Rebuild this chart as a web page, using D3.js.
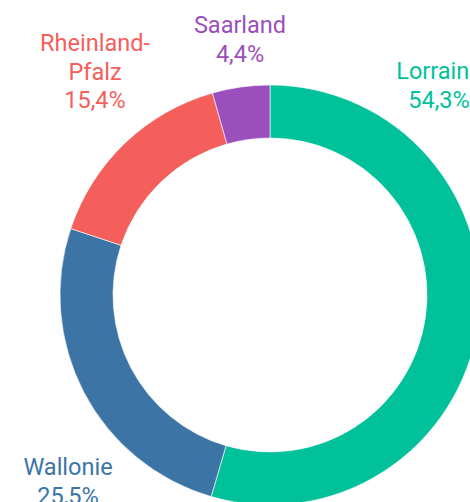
<!DOCTYPE html>
<html>
<head>
<meta charset="utf-8">
<script src="https://cdn.jsdelivr.net/npm/d3@7"></script>
<style>
  html, body { margin: 0; padding: 0; background: #fff; overflow: hidden; }
  svg { display: block; }
  text { font-family: Roboto, "Noto Sans", sans-serif; }
</style>
</head>
<body>
<div id="chart"></div>
<script>
const regions = ["Lorraine", "Wallonie", "Rheinland-Pfalz", "Saarland"];
const shares = [54.3, 25.5, 15.4, 4.4];
const labelLines = [["Lorraine"], ["Wallonie"], ["Rheinland-", "Pfalz"], ["Saarland"]];
const colors = ["#00c19a", "#3c74a6", "#f45e5b", "#9a4fbd"];
// where each label sits, relative to the donut centre (first baseline)
const labelOffsets = [[169, -216], [-202, 180], [-175, -244], [-30, -262]];

const SIZE = { width: 470, height: 502 };
const CENTER = { x: 270, y: 295 };
const RADIUS = { outer: 210, inner: 157 };
const LINE_H = 28.5;

function initialize() {
  const svg = d3.select("div#chart").append("svg")
      .attr("width", SIZE.width)
      .attr("height", SIZE.height);

  const data = regions.map((r, i) => ({ region: r, share: shares[i], i: i }));
  const pie = d3.pie().value(d => d.share).sort(null);
  const arc = d3.arc().innerRadius(RADIUS.inner).outerRadius(RADIUS.outer);

  const g = svg.append("g").attr("transform", `translate(${CENTER.x},${CENTER.y})`);
  g.selectAll("path")
    .data(pie(data))
    .join("path")
      .attr("d", arc)
      .attr("fill", d => colors[d.data.i])
      .attr("stroke", "#fff")
      .attr("stroke-width", 0.6);

  const labels = g.selectAll("text.label")
    .data(data)
    .join("text")
      .attr("class", "label")
      .attr("text-anchor", "middle")
      .attr("font-size", 23.5)
      .attr("fill", d => colors[d.i])
      .attr("transform", d => `translate(${labelOffsets[d.i][0]},${labelOffsets[d.i][1]})`);

  labels.each(function(d) {
    const lines = labelLines[d.i].concat([d3.format(".1f")(d.share).replace(".", ",") + "%"]);
    d3.select(this).selectAll("tspan")
      .data(lines)
      .join("tspan")
        .attr("x", 0)
        .attr("y", (l, k) => k * LINE_H)
        .text(l => l);
  });
}

initialize();
</script>
</body>
</html>
